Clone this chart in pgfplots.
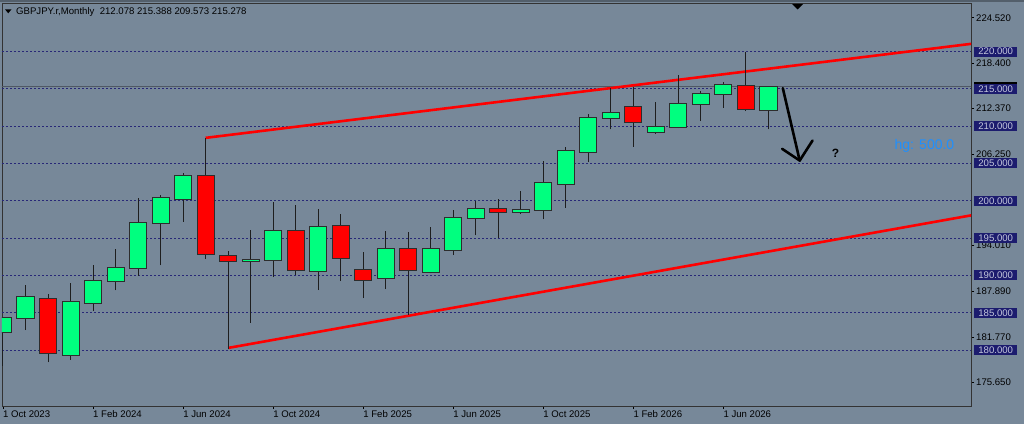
\documentclass[border=0pt]{standalone}
\usepackage{pgfplots}
\pgfplotsset{compat=1.18}
\usepackage{pgfplotstable}
\usepackage{fontspec}
\setmainfont{Liberation Sans}
\definecolor{bg}{RGB}{119,136,153}
\definecolor{cgreen}{RGB}{0,255,127}
\definecolor{cred}{RGB}{255,0,0}
\definecolor{outl}{RGB}{45,45,45}
\definecolor{wickc}{RGB}{30,30,30}
\definecolor{gridc}{RGB}{40,40,120}
\definecolor{navyb}{RGB}{28,28,110}
\definecolor{boxtxt}{RGB}{195,198,220}
\definecolor{hgblue}{RGB}{30,144,255}
\definecolor{priceline}{RGB}{80,88,100}

\pgfplotstableread{
x o h l c
0 182.42 184.45 177.90 184.34
1 184.25 188.68 182.68 187.16
2 186.93 187.51 178.35 179.55
3 179.28 188.94 178.70 186.48
4 186.26 191.40 185.23 189.39
5 189.21 193.55 188.00 191.00
6 190.96 200.39 189.97 197.13
7 196.95 200.84 191.36 200.44
8 200.21 203.70 197.22 203.43
9 203.35 208.43 192.21 192.79
10 192.70 193.28 180.09 191.85
11 191.85 196.06 183.67 192.16
12 191.96 199.78 189.78 195.98
13 195.98 199.46 190.04 190.63
14 190.49 198.93 188.04 196.61
15 196.70 198.21 189.24 192.23
16 190.76 193.17 186.96 189.38
17 189.60 195.98 188.17 193.66
18 193.57 195.76 184.70 190.63
19 190.45 196.43 190.27 193.66
20 193.39 198.79 192.72 197.72
21 197.59 199.91 195.36 199.02
22 199.02 200.27 195.00 198.44
23 198.44 201.30 198.21 198.79
24 198.71 205.27 197.50 202.46
25 202.19 207.19 199.06 206.70
26 206.43 211.56 205.18 211.12
27 211.03 215.13 209.55 211.79
28 212.63 215.30 207.23 210.45
29 209.11 213.30 208.97 209.91
30 209.87 216.88 209.73 213.08
31 212.90 214.69 210.67 214.33
32 214.24 215.89 212.46 215.58
33 215.45 219.90 212.00 212.23
34 212.078 215.388 209.573 215.278
}\candles

\begin{document}
\begin{tikzpicture}[x=1pt,y=1pt]
\path[fill=bg, use as bounding box] (0,0) rectangle (1024,424);
\fill[black!30!bg] (0,421.5) rectangle (1024,424);
\begin{axis}[
  at={(2pt,18pt)}, anchor=south west,
  scale only axis, width=969pt, height=403pt,
  xmin=-0.044, xmax=43.0, ymin=172.5, ymax=226.5,
  axis line style={draw=black!80, line width=0.9pt},
  clip mode=individual,
  xtick={0,4,...,32},
  xticklabels={1 Oct 2023,1 Feb 2024,1 Jun 2024,1 Oct 2024,1 Feb 2025,1 Jun 2025,1 Oct 2025,1 Feb 2026,1 Jun 2026},
  xtick pos=bottom, ytick pos=right, tick align=outside,
  major tick length=3pt,
  tick style={black, line width=0.6pt},
  ytick={175.65,181.77,187.89,194.01,206.25,212.37,218.4,224.52},
  yticklabels={175.650,181.770,187.890,194.010,206.250,212.370,218.400,224.520},
  /pgf/number format/assume math mode=true,
  ticklabel style={font=\fontsize{9.6}{11}\selectfont, text=black},
  xticklabel style={anchor=north west, inner xsep=0pt, inner ysep=1.5pt},
  yticklabel style={anchor=west, inner xsep=2pt},
  extra y ticks={180,185,190,195,200,205,210,215,220},
  extra y tick labels={},
  extra y tick style={grid=major, major tick length=0pt},
  major grid style={gridc, dash pattern=on 2pt off 2pt, line width=0.7pt},
]
\addplot[priceline, line width=0.9pt] coordinates {(-1,215.278) (44,215.278)};
\addplot[cred, line width=2.6pt] coordinates {(9,208.43) (43.2,221.1)};
\addplot[cred, line width=2.6pt] coordinates {(10,180.28) (43.2,198.15)};
\pgfplotsinvokeforeach{0,...,34}{%
  \pgfplotstablegetelem{#1}{o}\of\candles \let\cndo\pgfplotsretval
  \pgfplotstablegetelem{#1}{c}\of\candles \let\cndc\pgfplotsretval
  \pgfplotstablegetelem{#1}{h}\of\candles \let\cndh\pgfplotsretval
  \pgfplotstablegetelem{#1}{l}\of\candles \let\cndl\pgfplotsretval
  \pgfmathsetmacro\cndxl{#1-0.38}%
  \pgfmathsetmacro\cndxr{#1+0.38}%
  \ifdim\cndo pt<\cndc pt\relax
    \let\cndlo\cndo \let\cndhi\cndc \def\cndfill{cgreen}%
  \else
    \let\cndlo\cndc \let\cndhi\cndo \def\cndfill{cred}%
  \fi
  \edef\cnddoplot{%
    \noexpand\addplot[draw=wickc, line width=1pt] coordinates {(#1,\cndl) (#1,\cndh)};
    \noexpand\addplot[draw=outl, fill=\cndfill, line width=0.9pt] coordinates {(\cndxl,\cndlo) (\cndxr,\cndlo) (\cndxr,\cndhi) (\cndxl,\cndhi)} -- cycle;}%
  \cnddoplot
}
\addplot[black, line width=2.6pt, line cap=round] coordinates {(34.64,215.09) (35.39,205.39)};
\addplot[black, line width=2.6pt, line cap=round, line join=round] coordinates {(34.61,206.96) (35.39,205.39) (35.96,208.07)};
\node[text=black, font=\fontsize{12}{14}\selectfont\bfseries] at (axis cs:36.98,206.38) {?};
\node[text=hgblue, font=\fontsize{14}{16}\selectfont] at (axis cs:40.93,207.36) {hg: 500.0};
\coordinate (rp) at (axis cs:43,215.278);
\pgfplotsinvokeforeach{180,185,190,195,200,205,210,215,220}{\coordinate (r#1) at (axis cs:43,#1);}
\end{axis}
\node[fill=black, inner sep=0pt, minimum width=43pt, minimum height=10pt, anchor=west] at ([xshift=3pt]rp) {};
\foreach \v in {180,185,190,195,200,205,210,215,220}{
  \node[fill=navyb, text=boxtxt, font=\fontsize{9.6}{11}\selectfont, inner sep=0pt, minimum width=43pt, minimum height=10pt, anchor=west] at ([xshift=3pt]r\v) {\v.000};
}
\fill[black] (5,414.7) -- (11.5,414.7) -- (8.25,410.7) -- cycle;
\node[anchor=west, font=\fontsize{9.6}{11}\selectfont, inner sep=0pt] at (16,412) {GBPJPY.r,Monthly\ \ 212.078 215.388 209.573 215.278};
\fill[black] (792,420) -- (803,420) -- (797.5,414.5) -- cycle;
\end{tikzpicture}
\end{document}
